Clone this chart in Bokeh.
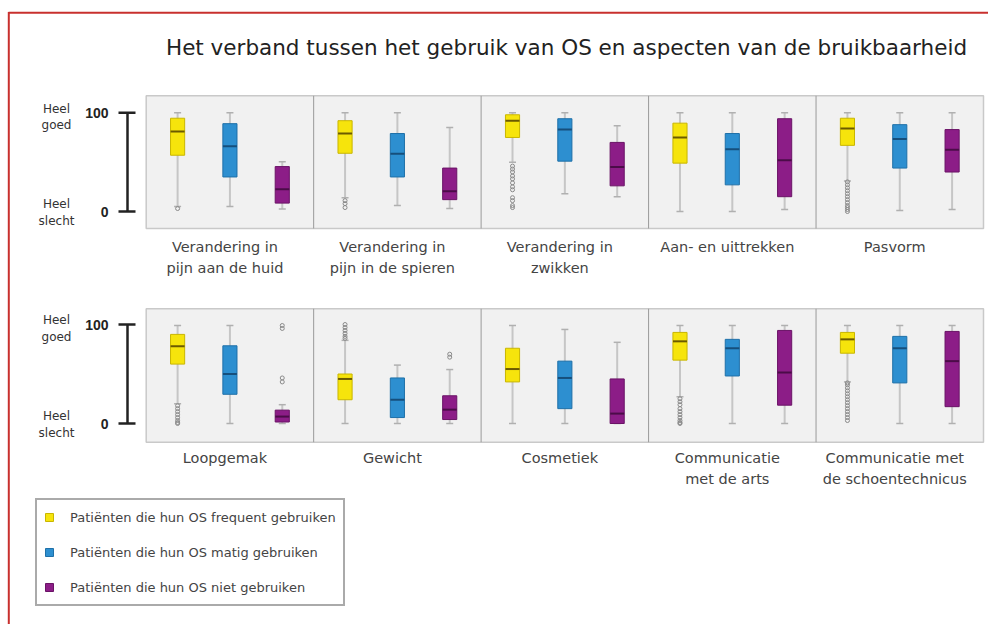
from bokeh.plotting import figure
from bokeh.models import Range1d, Legend, LegendItem, ColumnDataSource
from bokeh.core.properties import value
from bokeh.embed import file_html
from bokeh.resources import INLINE

# ---------------- data ----------------
title_text = "Het verband tussen het gebruik van OS en aspecten van de bruikbaarheid"

aspects = [
    "Verandering in\npijn aan de huid",
    "Verandering in\npijn in de spieren",
    "Verandering in\nzwikken",
    "Aan- en uittrekken",
    "Pasvorm",
    "Loopgemak",
    "Gewicht",
    "Cosmetiek",
    "Communicatie\nmet de arts",
    "Communicatie met\nde schoentechnicus",
]

groups = [
    "Patiënten die hun OS frequent gebruiken",
    "Patiënten die hun OS matig gebruiken",
    "Patiënten die hun OS niet gebruiken",
]

# frequent (yellow)
freq_low = [5, 14, 50, 0, 31, 20, 0, 0, 27, 42]
freq_q1 = [57, 59, 75, 49, 67, 60, 24, 42, 64, 71]
freq_med = [81, 79, 92, 75, 84, 78, 45, 55, 83, 85]
freq_q3 = [94.5, 92, 98, 89.5, 94.5, 90, 50, 76, 92, 92]
freq_high = [100, 100, 100, 100, 100, 99, 84, 99, 99, 99]

# matig (blue)
matig_low = [5, 6, 18, 0, 1, 0, 0, 0, 0, 0]
matig_q1 = [35, 35, 51, 27, 44, 29.5, 6, 15, 48, 41]
matig_med = [66, 58.5, 83, 63, 73.5, 50, 24, 46, 76, 76]
matig_q3 = [89, 79, 94, 79, 88, 78.5, 46, 63, 85, 88]
matig_high = [100, 100, 100, 100, 100, 99, 59, 95, 99, 99]

# niet (purple)
niet_low = [2.5, 3, 15, 2, 2, 0, 0, 0, 0, 0]
niet_q1 = [8.5, 12, 26, 15, 40, 1.5, 4, 0, 18.5, 17]
niet_med = [22.5, 20.5, 45, 52, 62.5, 7, 14, 10, 51.5, 63]
niet_q3 = [45.5, 44, 70, 94, 83, 13.5, 28, 45, 94, 93]
niet_high = [50.5, 85, 87, 100, 100, 19, 54.5, 82, 99, 99]

# outliers: aspect index, group index, value
out_aspect = ([0] + [1] * 3 + [2] * 12 + [4] * 12 + [5] * 8 + [5] * 4
              + [6] * 6 + [6] * 2 + [8] * 10 + [9] * 14)
out_group = ([0] + [0] * 3 + [0] * 12 + [0] * 12 + [0] * 8 + [2] * 4
             + [0] * 6 + [2] * 2 + [0] * 10 + [0] * 14)
out_value = ([3]
             + [11, 8, 4]
             + [46, 43, 40, 36, 33, 29, 25, 22, 14, 11, 6, 4]
             + [30, 27, 24, 21, 18, 15, 12, 9, 6, 4, 2, 0]
             + [18, 15, 12, 9, 6, 3, 1, 0]
             + [99, 96, 46, 42]
             + [100, 97, 94, 91, 88, 86]
             + [70, 67]
             + [25, 22, 19, 15, 12, 9, 6, 3, 1, 0]
             + [41, 39, 36, 33, 30, 27, 24, 21, 18, 15, 12, 9, 6, 3])

y_ticks = [0, 100]
y_tick_labels = ["0", "100"]
scale_labels = ["Heel\nslecht", "Heel\ngoed"]

# ---------------- styles ----------------
fills = ["#f6e40c", "#2d8fd0", "#8c1d87"]
lines = ["#c9b600", "#1f70a8", "#6a1366"]
medians = ["#6b5a00", "#164f7c", "#4b0c48"]
FONT = value("DejaVu Sans")

stats = [
    (freq_low, freq_q1, freq_med, freq_q3, freq_high),
    (matig_low, matig_q1, matig_med, matig_q3, matig_high),
    (niet_low, niet_q1, niet_med, niet_q3, niet_high),
]

# page-pixel frame of the figure (canvas starts at the page origin)
PX_L, PX_R, PX_T, PX_B = 0, 988, 0, 624


def mapped_range(v_a, px_a, v_b, px_b, px_lo, px_hi):
    k = (v_b - v_a) / (px_b - px_a)
    return Range1d(start=v_a + (px_lo - px_a) * k, end=v_a + (px_hi - px_a) * k)


p = figure(width=PX_R - PX_L, height=PX_B - PX_T, output_backend="svg",
           toolbar_location=None,
           x_range=Range1d(PX_L, PX_R), y_range=Range1d(PX_B, PX_T),
           x_axis_location=None, y_axis_location=None, min_border=0,
           outline_line_color=None, background_fill_color="white",
           border_fill_color="white")
p.xgrid.visible = False
p.ygrid.visible = False

PANEL_W = 3.2
p.extra_x_ranges = {"cx": mapped_range(0.4, 145.7, 0.4 + 5 * PANEL_W, 983, PX_L, PX_R)}
p.extra_y_ranges = {
    "r1": mapped_range(0, 211, 100, 112.3, PX_B, PX_T),
    "r2": mapped_range(0, 423, 100, 324, PX_B, PX_T),
}

# red frame of the page
p.segment(x0=[8], y0=[12.3], x1=[PX_R], y1=[12.3], line_color="#c8302e", line_width=2)
p.segment(x0=[8.3], y0=[11.5], x1=[8.3], y1=[PX_B], line_color="#c8302e", line_width=2)

# title
p.text(x=[566], y=[47], text=[title_text], text_font=FONT, text_font_size="21.5px",
       text_color="#222222", text_align="center", text_baseline="middle")

rows = [
    ("r1", 0, -17.2, 117.2, 238),
    ("r2", 5, -18.9, 115.9, 449),
]

legend_renderers = []
for rname, start, lo, hi, label_top in rows:
    idx = list(range(start, start + 5))
    # panel background
    p.quad(left=[0.4], right=[0.4 + 5 * PANEL_W], bottom=[lo], top=[hi],
           fill_color="#f1f1f1", line_color="#c9c9c9", line_width=1.5,
           x_range_name="cx", y_range_name=rname)
    div_x = [0.4 + PANEL_W * (i + 1) for i in range(4)]
    p.segment(x0=div_x, y0=[lo] * 4, x1=div_x, y1=[hi] * 4, line_color="#9a9a9a",
              line_width=1, x_range_name="cx", y_range_name=rname)

    # y axis
    p.segment(x0=[127], y0=[y_ticks[0]], x1=[127], y1=[y_ticks[1]], line_color="#222222",
              line_width=2.5, y_range_name=rname)
    p.segment(x0=[118, 118], y0=y_ticks, x1=[135, 135], y1=y_ticks, line_color="#222222",
              line_width=2.5, y_range_name=rname)
    p.text(x=[108, 108], y=y_ticks, text=y_tick_labels, text_font=value("Liberation Sans"),
           text_font_size="14px", text_font_style="bold", text_color="#222222",
           text_align="right", text_baseline="middle", y_range_name=rname)
    p.text(x=[56, 56], y=y_ticks, text=scale_labels, text_font=FONT,
           text_font_size="12px", text_color="#333333", text_align="center",
           text_baseline="middle", y_offset=[1, 4], text_line_height=1.15,
           y_range_name=rname)

    # category labels
    p.text(x=[2.0 + PANEL_W * i for i in range(5)], y=[label_top] * 5,
           text=[aspects[j] for j in idx], text_font=FONT, text_font_size="14.5px",
           text_color="#444444", text_align="center", text_baseline="top",
           text_line_height=1.35, x_offset=-5, x_range_name="cx")

    for g in range(3):
        low, q1, med, q3, high = stats[g]
        xs = [PANEL_W * i + 1 + g for i in range(5)]
        src = ColumnDataSource(dict(
            x=xs, low=[low[j] for j in idx], q1=[q1[j] for j in idx],
            med=[med[j] for j in idx], q3=[q3[j] for j in idx],
            high=[high[j] for j in idx]))
        p.segment(x0="x", y0="low", x1="x", y1="high", source=src, line_color="#c6c6c6",
                  line_width=2, x_range_name="cx", y_range_name=rname)
        p.scatter(x="x", y="low", source=src, marker="dash", size=7, line_color="#b0b0b0",
                  line_width=1.5, x_range_name="cx", y_range_name=rname)
        p.scatter(x="x", y="high", source=src, marker="dash", size=7, line_color="#b0b0b0",
                  line_width=1.5, x_range_name="cx", y_range_name=rname)
        r = p.vbar(x="x", bottom="q1", top="q3", width=0.27, source=src,
                   fill_color=fills[g], line_color=lines[g], line_width=1,
                   x_range_name="cx", y_range_name=rname)
        if rname == "r1":
            legend_renderers.append(r)
        p.scatter(x="x", y="med", source=src, marker="dash", size=14, line_color=medians[g],
                  line_width=2, x_range_name="cx", y_range_name=rname)

        ox = [PANEL_W * (a - start) + 1 + gg for a, gg in zip(out_aspect, out_group)
              if start <= a < start + 5 and gg == g]
        oy = [v for a, gg, v in zip(out_aspect, out_group, out_value)
              if start <= a < start + 5 and gg == g]
        if ox:
            p.scatter(x=ox, y=oy, marker="circle", size=4, fill_color=None,
                      line_color="#8a8a8a", line_width=1, x_range_name="cx",
                      y_range_name=rname)

legend = Legend(items=[LegendItem(label=groups[g], renderers=[legend_renderers[g]])
                       for g in range(3)],
                location=(35 - PX_L, PX_B - 606), orientation="vertical",
                border_line_color="#555555", border_line_width=2,
                background_fill_color="white", background_fill_alpha=1,
                padding=7, spacing=15, margin=0, label_height=20,
                glyph_height=10, glyph_width=10, label_standoff=16,
                label_text_font="DejaVu Sans", label_text_font_size="13px",
                label_text_color="#444444")
p.add_layout(legend, "center")

open("out.html", "w").write(file_html(p, INLINE))
